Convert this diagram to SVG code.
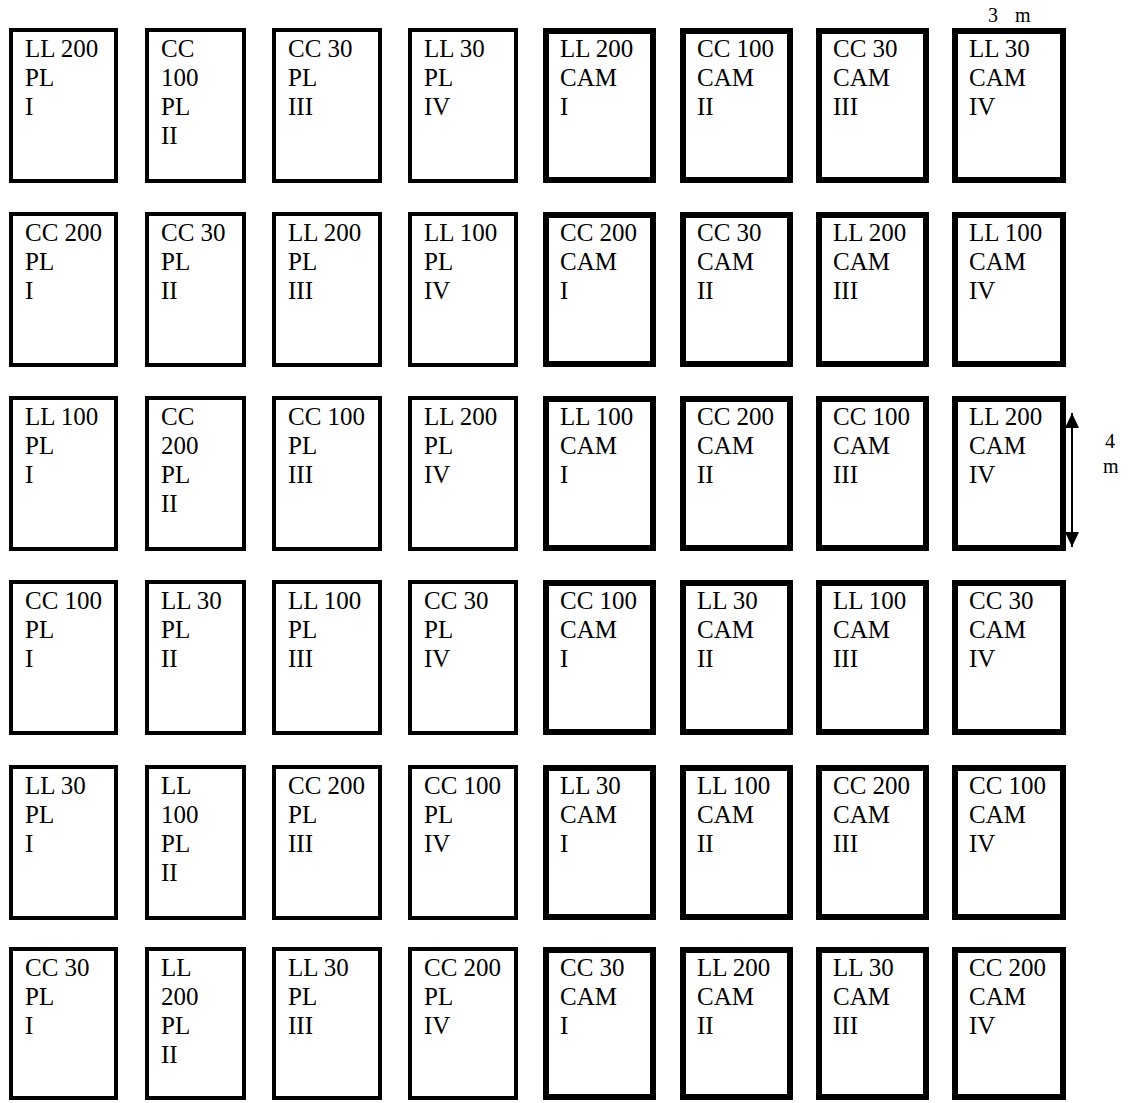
<svg xmlns="http://www.w3.org/2000/svg" width="1129" height="1103" viewBox="0 0 1129 1103">
<style>
.pl{fill:#fff;stroke:#000;stroke-width:4}
.cam{fill:#fff;stroke:#000;stroke-width:6}
.t{font-family:"Liberation Serif","Times New Roman",serif;font-size:25px;fill:#000}
.d{font-family:"Liberation Serif","Times New Roman",serif;font-size:20px;fill:#000}
</style>
<defs>
<marker id="ah" viewBox="0 0 15 14" refX="15" refY="7" markerWidth="15" markerHeight="14" markerUnits="userSpaceOnUse" orient="auto-start-reverse"><path d="M0,0 L15,7 L0,14 Z" fill="#000"/></marker>
</defs>
<rect width="1129" height="1103" fill="#fff"/>
<!-- Row 1 -->
<g id="r1c1" transform="translate(9,28)"><rect class="pl" x="2" y="2" width="105" height="151"/><text class="t" x="16" y="29">LL 200<tspan x="16" dy="29">PL</tspan><tspan x="16" dy="29">I</tspan></text></g>
<g id="r1c2" transform="translate(145,28)"><rect class="pl" x="2" y="2" width="97" height="151"/><text class="t" x="16" y="29">CC<tspan x="16" dy="29">100</tspan><tspan x="16" dy="29">PL</tspan><tspan x="16" dy="29">II</tspan></text></g>
<g id="r1c3" transform="translate(272,28)"><rect class="pl" x="2" y="2" width="106" height="151"/><text class="t" x="16" y="29">CC 30<tspan x="16" dy="29">PL</tspan><tspan x="16" dy="29">III</tspan></text></g>
<g id="r1c4" transform="translate(408,28)"><rect class="pl" x="2" y="2" width="106" height="151"/><text class="t" x="16" y="29">LL 30<tspan x="16" dy="29">PL</tspan><tspan x="16" dy="29">IV</tspan></text></g>
<g id="r1c5" transform="translate(543,28)"><rect class="cam" x="3" y="3" width="107" height="149"/><text class="t" x="17" y="29">LL 200<tspan x="17" dy="29">CAM</tspan><tspan x="17" dy="29">I</tspan></text></g>
<g id="r1c6" transform="translate(680,28)"><rect class="cam" x="3" y="3" width="107" height="149"/><text class="t" x="17" y="29">CC 100<tspan x="17" dy="29">CAM</tspan><tspan x="17" dy="29">II</tspan></text></g>
<g id="r1c7" transform="translate(816,28)"><rect class="cam" x="3" y="3" width="107" height="149"/><text class="t" x="17" y="29">CC 30<tspan x="17" dy="29">CAM</tspan><tspan x="17" dy="29">III</tspan></text></g>
<g id="r1c8" transform="translate(952,28)"><rect class="cam" x="3" y="3" width="108" height="149"/><text class="t" x="17" y="29">LL 30<tspan x="17" dy="29">CAM</tspan><tspan x="17" dy="29">IV</tspan></text></g>
<!-- Row 2 -->
<g id="r2c1" transform="translate(9,212)"><rect class="pl" x="2" y="2" width="105" height="151"/><text class="t" x="16" y="29">CC 200<tspan x="16" dy="29">PL</tspan><tspan x="16" dy="29">I</tspan></text></g>
<g id="r2c2" transform="translate(145,212)"><rect class="pl" x="2" y="2" width="97" height="151"/><text class="t" x="16" y="29">CC 30<tspan x="16" dy="29">PL</tspan><tspan x="16" dy="29">II</tspan></text></g>
<g id="r2c3" transform="translate(272,212)"><rect class="pl" x="2" y="2" width="106" height="151"/><text class="t" x="16" y="29">LL 200<tspan x="16" dy="29">PL</tspan><tspan x="16" dy="29">III</tspan></text></g>
<g id="r2c4" transform="translate(408,212)"><rect class="pl" x="2" y="2" width="106" height="151"/><text class="t" x="16" y="29">LL 100<tspan x="16" dy="29">PL</tspan><tspan x="16" dy="29">IV</tspan></text></g>
<g id="r2c5" transform="translate(543,212)"><rect class="cam" x="3" y="3" width="107" height="149"/><text class="t" x="17" y="29">CC 200<tspan x="17" dy="29">CAM</tspan><tspan x="17" dy="29">I</tspan></text></g>
<g id="r2c6" transform="translate(680,212)"><rect class="cam" x="3" y="3" width="107" height="149"/><text class="t" x="17" y="29">CC 30<tspan x="17" dy="29">CAM</tspan><tspan x="17" dy="29">II</tspan></text></g>
<g id="r2c7" transform="translate(816,212)"><rect class="cam" x="3" y="3" width="107" height="149"/><text class="t" x="17" y="29">LL 200<tspan x="17" dy="29">CAM</tspan><tspan x="17" dy="29">III</tspan></text></g>
<g id="r2c8" transform="translate(952,212)"><rect class="cam" x="3" y="3" width="108" height="149"/><text class="t" x="17" y="29">LL 100<tspan x="17" dy="29">CAM</tspan><tspan x="17" dy="29">IV</tspan></text></g>
<!-- Row 3 -->
<g id="r3c1" transform="translate(9,396)"><rect class="pl" x="2" y="2" width="105" height="151"/><text class="t" x="16" y="29">LL 100<tspan x="16" dy="29">PL</tspan><tspan x="16" dy="29">I</tspan></text></g>
<g id="r3c2" transform="translate(145,396)"><rect class="pl" x="2" y="2" width="97" height="151"/><text class="t" x="16" y="29">CC<tspan x="16" dy="29">200</tspan><tspan x="16" dy="29">PL</tspan><tspan x="16" dy="29">II</tspan></text></g>
<g id="r3c3" transform="translate(272,396)"><rect class="pl" x="2" y="2" width="106" height="151"/><text class="t" x="16" y="29">CC 100<tspan x="16" dy="29">PL</tspan><tspan x="16" dy="29">III</tspan></text></g>
<g id="r3c4" transform="translate(408,396)"><rect class="pl" x="2" y="2" width="106" height="151"/><text class="t" x="16" y="29">LL 200<tspan x="16" dy="29">PL</tspan><tspan x="16" dy="29">IV</tspan></text></g>
<g id="r3c5" transform="translate(543,396)"><rect class="cam" x="3" y="3" width="107" height="149"/><text class="t" x="17" y="29">LL 100<tspan x="17" dy="29">CAM</tspan><tspan x="17" dy="29">I</tspan></text></g>
<g id="r3c6" transform="translate(680,396)"><rect class="cam" x="3" y="3" width="107" height="149"/><text class="t" x="17" y="29">CC 200<tspan x="17" dy="29">CAM</tspan><tspan x="17" dy="29">II</tspan></text></g>
<g id="r3c7" transform="translate(816,396)"><rect class="cam" x="3" y="3" width="107" height="149"/><text class="t" x="17" y="29">CC 100<tspan x="17" dy="29">CAM</tspan><tspan x="17" dy="29">III</tspan></text></g>
<g id="r3c8" transform="translate(952,396)"><rect class="cam" x="3" y="3" width="108" height="149"/><text class="t" x="17" y="29">LL 200<tspan x="17" dy="29">CAM</tspan><tspan x="17" dy="29">IV</tspan></text></g>
<!-- Row 4 -->
<g id="r4c1" transform="translate(9,580)"><rect class="pl" x="2" y="2" width="105" height="151"/><text class="t" x="16" y="29">CC 100<tspan x="16" dy="29">PL</tspan><tspan x="16" dy="29">I</tspan></text></g>
<g id="r4c2" transform="translate(145,580)"><rect class="pl" x="2" y="2" width="97" height="151"/><text class="t" x="16" y="29">LL 30<tspan x="16" dy="29">PL</tspan><tspan x="16" dy="29">II</tspan></text></g>
<g id="r4c3" transform="translate(272,580)"><rect class="pl" x="2" y="2" width="106" height="151"/><text class="t" x="16" y="29">LL 100<tspan x="16" dy="29">PL</tspan><tspan x="16" dy="29">III</tspan></text></g>
<g id="r4c4" transform="translate(408,580)"><rect class="pl" x="2" y="2" width="106" height="151"/><text class="t" x="16" y="29">CC 30<tspan x="16" dy="29">PL</tspan><tspan x="16" dy="29">IV</tspan></text></g>
<g id="r4c5" transform="translate(543,580)"><rect class="cam" x="3" y="3" width="107" height="149"/><text class="t" x="17" y="29">CC 100<tspan x="17" dy="29">CAM</tspan><tspan x="17" dy="29">I</tspan></text></g>
<g id="r4c6" transform="translate(680,580)"><rect class="cam" x="3" y="3" width="107" height="149"/><text class="t" x="17" y="29">LL 30<tspan x="17" dy="29">CAM</tspan><tspan x="17" dy="29">II</tspan></text></g>
<g id="r4c7" transform="translate(816,580)"><rect class="cam" x="3" y="3" width="107" height="149"/><text class="t" x="17" y="29">LL 100<tspan x="17" dy="29">CAM</tspan><tspan x="17" dy="29">III</tspan></text></g>
<g id="r4c8" transform="translate(952,580)"><rect class="cam" x="3" y="3" width="108" height="149"/><text class="t" x="17" y="29">CC 30<tspan x="17" dy="29">CAM</tspan><tspan x="17" dy="29">IV</tspan></text></g>
<!-- Row 5 -->
<g id="r5c1" transform="translate(9,765)"><rect class="pl" x="2" y="2" width="105" height="151"/><text class="t" x="16" y="29">LL 30<tspan x="16" dy="29">PL</tspan><tspan x="16" dy="29">I</tspan></text></g>
<g id="r5c2" transform="translate(145,765)"><rect class="pl" x="2" y="2" width="97" height="151"/><text class="t" x="16" y="29">LL<tspan x="16" dy="29">100</tspan><tspan x="16" dy="29">PL</tspan><tspan x="16" dy="29">II</tspan></text></g>
<g id="r5c3" transform="translate(272,765)"><rect class="pl" x="2" y="2" width="106" height="151"/><text class="t" x="16" y="29">CC 200<tspan x="16" dy="29">PL</tspan><tspan x="16" dy="29">III</tspan></text></g>
<g id="r5c4" transform="translate(408,765)"><rect class="pl" x="2" y="2" width="106" height="151"/><text class="t" x="16" y="29">CC 100<tspan x="16" dy="29">PL</tspan><tspan x="16" dy="29">IV</tspan></text></g>
<g id="r5c5" transform="translate(543,765)"><rect class="cam" x="3" y="3" width="107" height="149"/><text class="t" x="17" y="29">LL 30<tspan x="17" dy="29">CAM</tspan><tspan x="17" dy="29">I</tspan></text></g>
<g id="r5c6" transform="translate(680,765)"><rect class="cam" x="3" y="3" width="107" height="149"/><text class="t" x="17" y="29">LL 100<tspan x="17" dy="29">CAM</tspan><tspan x="17" dy="29">II</tspan></text></g>
<g id="r5c7" transform="translate(816,765)"><rect class="cam" x="3" y="3" width="107" height="149"/><text class="t" x="17" y="29">CC 200<tspan x="17" dy="29">CAM</tspan><tspan x="17" dy="29">III</tspan></text></g>
<g id="r5c8" transform="translate(952,765)"><rect class="cam" x="3" y="3" width="108" height="149"/><text class="t" x="17" y="29">CC 100<tspan x="17" dy="29">CAM</tspan><tspan x="17" dy="29">IV</tspan></text></g>
<!-- Row 6 -->
<g id="r6c1" transform="translate(9,947)"><rect class="pl" x="2" y="2" width="105" height="149"/><text class="t" x="16" y="29">CC 30<tspan x="16" dy="29">PL</tspan><tspan x="16" dy="29">I</tspan></text></g>
<g id="r6c2" transform="translate(145,947)"><rect class="pl" x="2" y="2" width="97" height="149"/><text class="t" x="16" y="29">LL<tspan x="16" dy="29">200</tspan><tspan x="16" dy="29">PL</tspan><tspan x="16" dy="29">II</tspan></text></g>
<g id="r6c3" transform="translate(272,947)"><rect class="pl" x="2" y="2" width="106" height="149"/><text class="t" x="16" y="29">LL 30<tspan x="16" dy="29">PL</tspan><tspan x="16" dy="29">III</tspan></text></g>
<g id="r6c4" transform="translate(408,947)"><rect class="pl" x="2" y="2" width="106" height="149"/><text class="t" x="16" y="29">CC 200<tspan x="16" dy="29">PL</tspan><tspan x="16" dy="29">IV</tspan></text></g>
<g id="r6c5" transform="translate(543,947)"><rect class="cam" x="3" y="3" width="107" height="147"/><text class="t" x="17" y="29">CC 30<tspan x="17" dy="29">CAM</tspan><tspan x="17" dy="29">I</tspan></text></g>
<g id="r6c6" transform="translate(680,947)"><rect class="cam" x="3" y="3" width="107" height="147"/><text class="t" x="17" y="29">LL 200<tspan x="17" dy="29">CAM</tspan><tspan x="17" dy="29">II</tspan></text></g>
<g id="r6c7" transform="translate(816,947)"><rect class="cam" x="3" y="3" width="107" height="147"/><text class="t" x="17" y="29">LL 30<tspan x="17" dy="29">CAM</tspan><tspan x="17" dy="29">III</tspan></text></g>
<g id="r6c8" transform="translate(952,947)"><rect class="cam" x="3" y="3" width="108" height="147"/><text class="t" x="17" y="29">CC 200<tspan x="17" dy="29">CAM</tspan><tspan x="17" dy="29">IV</tspan></text></g>
<!-- Dimensions -->
<g id="dim-width"><text class="d" x="988" y="22" word-spacing="12">3 m</text></g>
<g id="connectors">
<line x1="1072" y1="413" x2="1072" y2="547" stroke="#000" stroke-width="2" marker-start="url(#ah)" marker-end="url(#ah)"/>
</g>
<g id="dim-height"><text class="d" x="1105" y="448">4</text><text class="d" x="1103" y="473">m</text></g>
</svg>
